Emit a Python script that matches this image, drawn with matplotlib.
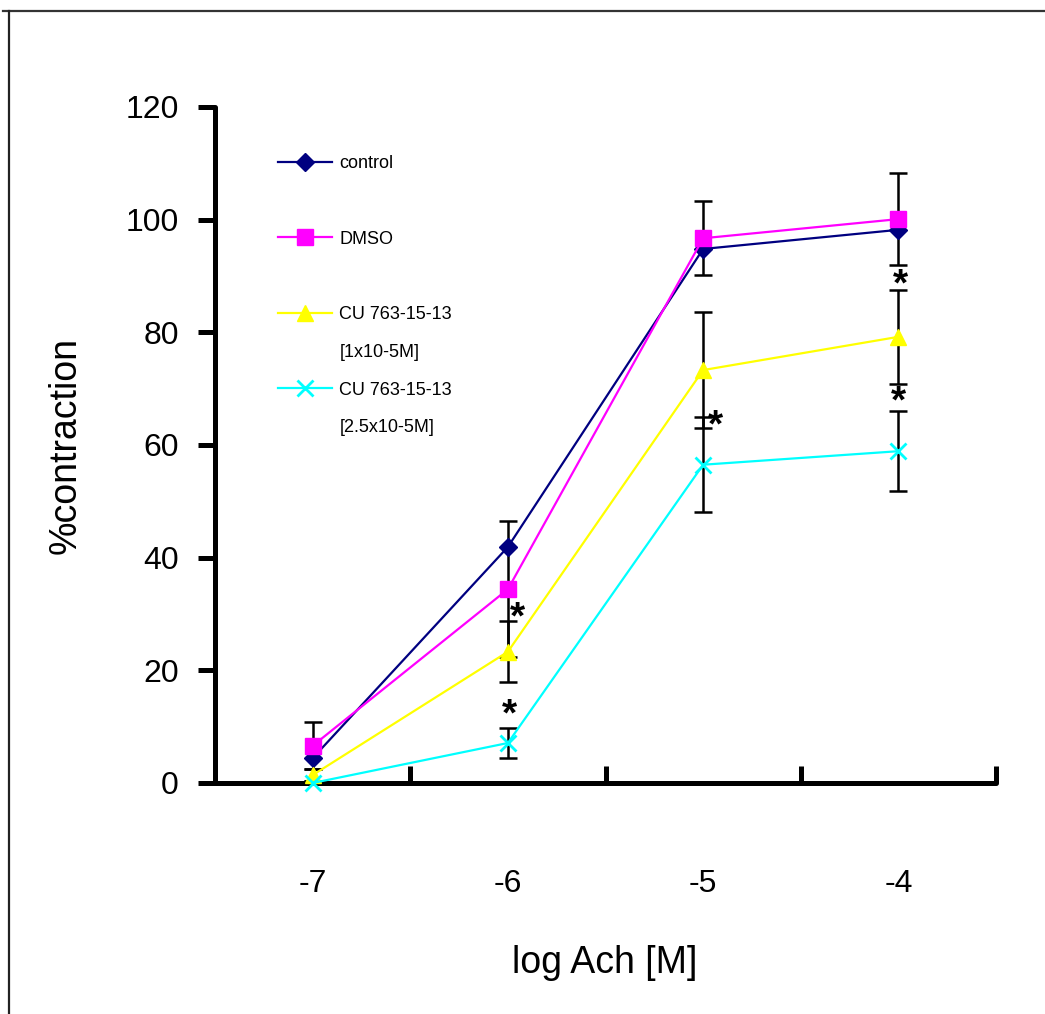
import matplotlib
matplotlib.use("Agg")
import matplotlib.pyplot as plt
from matplotlib.lines import Line2D
import numpy as np

plt.rcParams['font.family'] = ['Liberation Sans', 'DejaVu Sans']

categories = ["-7", "-6", "-5", "-4"]
control = [4.4, 41.9, 94.8, 98.2]
dmso = [6.6, 34.4, 96.7, 100.1]
dmso_err = [4.2, 12.1, 6.6, 8.1]
cu_low = [1.4, 23.3, 73.3, 79.2]
cu_low_err = [1.0, 5.4, 10.3, 8.3]
cu_high = [0.0, 7.1, 56.5, 58.9]
cu_high_err = [0.3, 2.7, 8.4, 7.1]

# significance asterisks: (category index, x offset, baseline value)
star_idx = [1, 1, 2, 3, 3]
star_dx = [0.05, 0.01, 0.065, 0.01, 0.0]
star_y = [27.4, 10.2, 61.5, 86.5, 65.8]

W, H = 1045, 1014
fig = plt.figure(figsize=(W / 100, H / 100), dpi=100)
ax = fig.add_axes([215 / W, 1 - 783 / H, (996 - 215) / W, (783 - 107) / H])

x = np.arange(len(categories))

eb_kw = dict(fmt='none', ecolor='black', elinewidth=1.8, capsize=6.5, capthick=1.8, zorder=2)
ax.errorbar(x, dmso, yerr=dmso_err, **eb_kw)
ax.errorbar(x, cu_low, yerr=cu_low_err, **eb_kw)
ax.errorbar(x, cu_high, yerr=cu_high_err, **eb_kw)

h1, = ax.plot(x, control, color='#000080', lw=1.6, marker='D', ms=9, mec='#000080', zorder=3, clip_on=False)
h2, = ax.plot(x, dmso, color='#FF00FF', lw=1.6, marker='s', ms=11, mec='#FF00FF', zorder=3, clip_on=False)
h3, = ax.plot(x, cu_low, color='#FFFF00', lw=1.6, marker='^', ms=12, mec='#FFFF00', zorder=3, clip_on=False)
h4, = ax.plot(x, cu_high, color='#00FFFF', lw=1.6, marker='x', ms=11, mew=2, zorder=4, clip_on=False)

for i, dx, yv in zip(star_idx, star_dx, star_y):
    ax.text(x[i] + dx, yv, "*", fontsize=28, fontweight='bold', ha='center', va='baseline', color='black')

ax.set_xlim(-0.5, len(categories) - 0.5)
ax.set_ylim(0, 120)
ax.set_yticks([0, 20, 40, 60, 80, 100, 120])
ax.set_xticks(x)
ax.set_xticklabels(categories)
ax.set_xticks(np.arange(-0.5, len(categories), 1.0), minor=True)

for s in ['top', 'right']:
    ax.spines[s].set_visible(False)
for s in ['left', 'bottom']:
    ax.spines[s].set_linewidth(3.6)
    ax.spines[s].set_capstyle('round')

ax.tick_params(axis='y', direction='out', length=12, width=3.6, labelsize=23, pad=14)
ax.tick_params(axis='x', which='major', length=0, labelsize=23, pad=62)
ax.tick_params(axis='x', which='minor', direction='in', length=12, width=3.6)

ax.set_xlabel("log Ach [M]", fontsize=27)
ax.set_ylabel("%contraction", fontsize=27)
ax.xaxis.set_label_coords((605 - 215) / (996 - 215), -(945 - 783) / (783 - 107))
ax.yaxis.set_label_coords(-(215 - 84) / (996 - 215), (783 - 445) / (783 - 107))

blank = Line2D([], [], linestyle='none')
handles = [h1, blank, h2, blank, h3, blank, h4, blank]
labels = ["control", " ", "DMSO", " ", "CU 763-15-13", "[1x10-5M]", "CU 763-15-13", "[2.5x10-5M]"]
leg = ax.legend(handles, labels, loc='upper left', bbox_to_anchor=(278 / W, 1 - 155 / H),
                bbox_transform=fig.transFigure, frameon=False, fontsize=13,
                handlelength=3.0, handletextpad=0.4, labelspacing=1.15, borderpad=0,
                borderaxespad=0, numpoints=1)

# figure border (top and left visible)
fig.add_artist(Line2D([3 / W, 1], [1 - 11 / H, 1 - 11 / H], transform=fig.transFigure, color='#333333', lw=1.6))
fig.add_artist(Line2D([9 / W, 9 / W], [0, 1 - 11 / H], transform=fig.transFigure, color='#222222', lw=1.6))

fig.savefig("out.png", dpi=100)
